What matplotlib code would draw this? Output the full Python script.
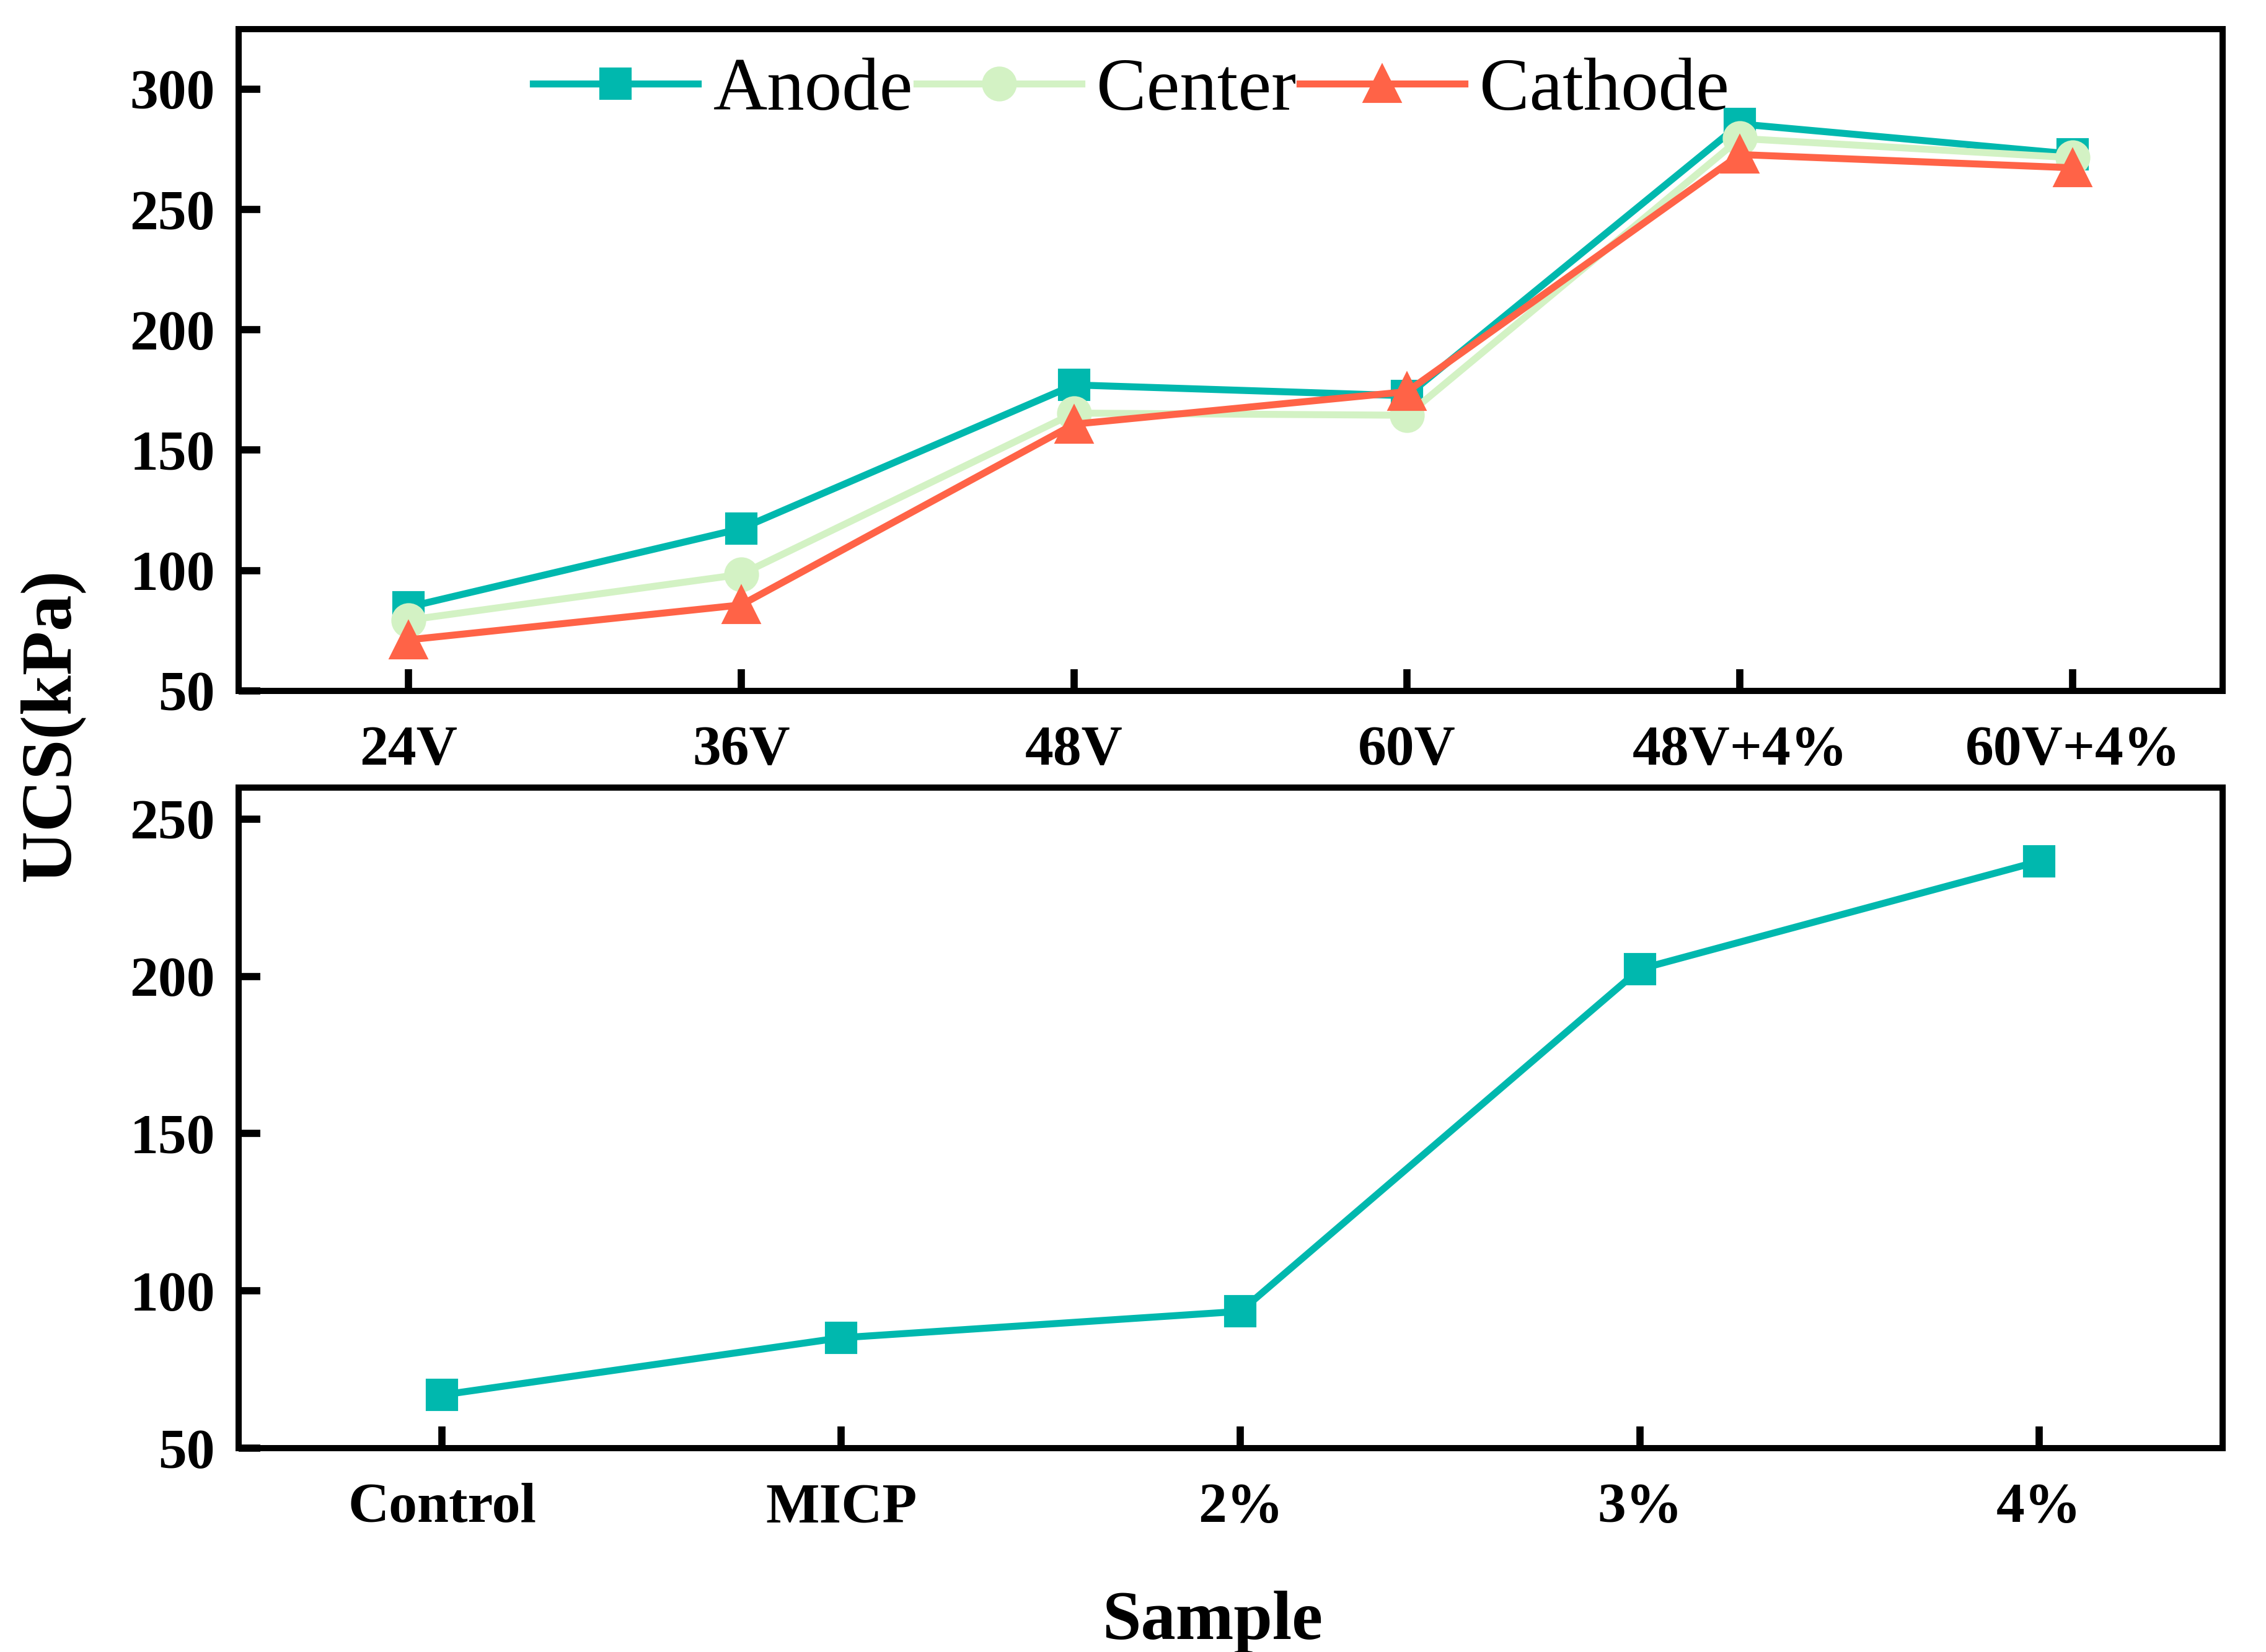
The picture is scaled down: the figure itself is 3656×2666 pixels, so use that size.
import numpy as np
import matplotlib
matplotlib.use('Agg')
import matplotlib.pyplot as plt

# Data
voltage_labels = ['24V', '36V', '48V', '60V', '48V+4%', '60V+4%']
anode = [84.8, 117.4, 177.1, 172.6, 285.5, 273.0]
center = [79.4, 98.4, 165.4, 164.5, 279.5, 271.5]
cathode = [71.2, 85.7, 160.8, 174.3, 272.8, 267.3]

sample_labels = ['Control', 'MICP', '2%', '3%', '4%']
sample_ucs = [66.9, 85.1, 93.5, 202.3, 236.6]

teal = '#00B8AE'
light_green = '#D3F2C4'
tomato = '#FF6347'

plt.rcParams['font.family'] = ['Liberation Serif', 'DejaVu Serif']
plt.rcParams['axes.linewidth'] = 2.4

fig = plt.figure(figsize=(3656 / 300, 2666 / 300), dpi=300)
ax1 = fig.add_axes([0.1052, 0.5818, 0.8757, 0.4007])
ax2 = fig.add_axes([0.1052, 0.1234, 0.8757, 0.3998])

x1 = np.arange(len(voltage_labels))
ax1.plot(x1, anode, color=teal, lw=2.7, marker='s', ms=11.5, label='Anode', zorder=3)
ax1.plot(x1, center, color=light_green, lw=2.7, marker='o', ms=12.5, label='Center', zorder=4)
ax1.plot(x1, cathode, color=tomato, lw=2.7, marker='^', ms=14, label='Cathode', zorder=5)
ax1.set_xlim(-0.51, len(voltage_labels) - 0.55)
ax1.set_ylim(50, 325)
ax1.set_yticks([50, 100, 150, 200, 250, 300])
ax1.set_xticks(x1)
ax1.set_xticklabels(voltage_labels)

leg = ax1.legend(loc='center', bbox_to_anchor=(0.45, 0.905), ncol=3, frameon=False,
                 fontsize=29, handlelength=2.2, handletextpad=0.2, columnspacing=0.05,
                 borderpad=0.1)

x2 = np.arange(len(sample_labels))
ax2.plot(x2, sample_ucs, color=teal, lw=2.7, marker='s', ms=11.5, zorder=3)
ax2.set_xlim(-0.51, len(sample_labels) - 0.54)
ax2.set_ylim(50, 260)
ax2.set_yticks([50, 100, 150, 200, 250])
ax2.set_xticks(x2)
ax2.set_xticklabels(sample_labels)

for ax in (ax1, ax2):
    ax.tick_params(axis='both', direction='in', length=8.5, width=2.8)
    ax.tick_params(axis='x', pad=13.5)
    ax.tick_params(axis='y', pad=9)
    for lab in ax.get_xticklabels() + ax.get_yticklabels():
        lab.set_fontsize(22)
        lab.set_fontweight('bold')

fig.text(0.0227, 0.561, 'UCS(kPa)', rotation=90, ha='center', va='center',
         fontsize=28, fontweight='bold')
fig.text(0.535, 0.008, 'Sample', ha='center', va='baseline',
         fontsize=27, fontweight='bold')

fig.savefig('out.png', dpi=300)
